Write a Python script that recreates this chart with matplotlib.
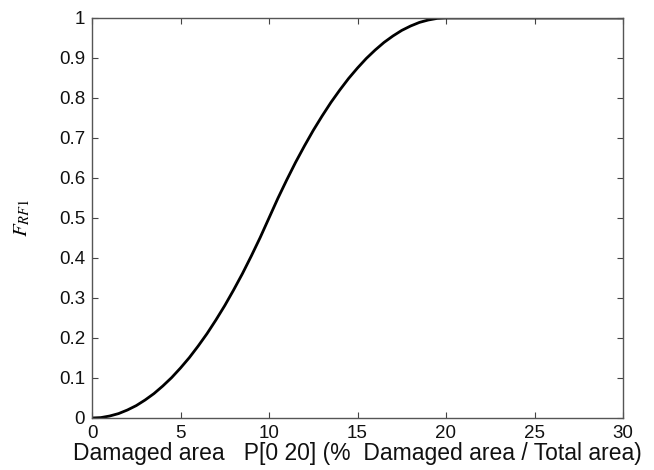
import matplotlib
matplotlib.use("Agg")
import matplotlib.pyplot as plt

# values (S-shaped rise from 0 to 20 %, flat after)
damaged_pct = [0, 0.5, 1, 1.5, 2, 2.5, 3, 3.5, 4, 4.5, 5, 5.5, 6, 6.5, 7, 7.5, 8, 8.5, 9, 9.5,
               10, 10.5, 11, 11.5, 12, 12.5, 13, 13.5, 14, 14.5, 15, 15.5, 16, 16.5, 17, 17.5,
               18, 18.5, 19, 19.5, 20, 25, 30]
f_rf1 = [0.0, 0.001, 0.005, 0.011, 0.02, 0.031, 0.045, 0.061, 0.08, 0.101, 0.125, 0.151,
         0.18, 0.211, 0.245, 0.281, 0.32, 0.361, 0.405, 0.451,
         0.5, 0.549, 0.595, 0.639, 0.68, 0.719, 0.755, 0.789, 0.82, 0.849, 0.875, 0.899,
         0.92, 0.939, 0.955, 0.969, 0.98, 0.989, 0.995, 0.999, 1.0, 1.0, 1.0]
x_ticks = [0, 5, 10, 15, 20, 25, 30]
y_ticks = [0, 0.1, 0.2, 0.3, 0.4, 0.5, 0.6, 0.7, 0.8, 0.9, 1]
y_tick_labels = ['0', '0.1', '0.2', '0.3', '0.4', '0.5', '0.6', '0.7', '0.8', '0.9', '1']

plt.rcParams['font.family'] = ['Liberation Sans', 'DejaVu Sans']
plt.rcParams['mathtext.fontset'] = 'stix'

fig = plt.figure(figsize=(6.54, 4.70), dpi=100)
ax = fig.add_axes([92 / 654, 1 - 418 / 470, (623 - 92) / 654, (418 - 18) / 470])

ax.plot(damaged_pct, f_rf1, color='black', lw=2.0)

ax.set_xlim(0, 30)
ax.set_ylim(0, 1)
ax.set_xticks(x_ticks)
ax.set_xticklabels([str(t) for t in x_ticks])
ax.set_yticks(y_ticks)
ax.set_yticklabels(y_tick_labels)
ax.tick_params(direction='in', top=True, right=True, length=4, labelsize=13.5,
               color='#444444', labelcolor='#111111')
ax.tick_params(axis='x', pad=5)
ax.tick_params(axis='y', pad=5)
for s in ax.spines.values():
    s.set_color('#555555')
    s.set_linewidth(1.0)

ax.set_xlabel('Damaged area   P[0 20] (%  Damaged area / Total area)', fontsize=16.5,
              labelpad=0, color='#111111')
ax.set_ylabel(r'$F_{RF1}$', fontsize=15, labelpad=19)

fig.savefig('out.png', dpi=100)
